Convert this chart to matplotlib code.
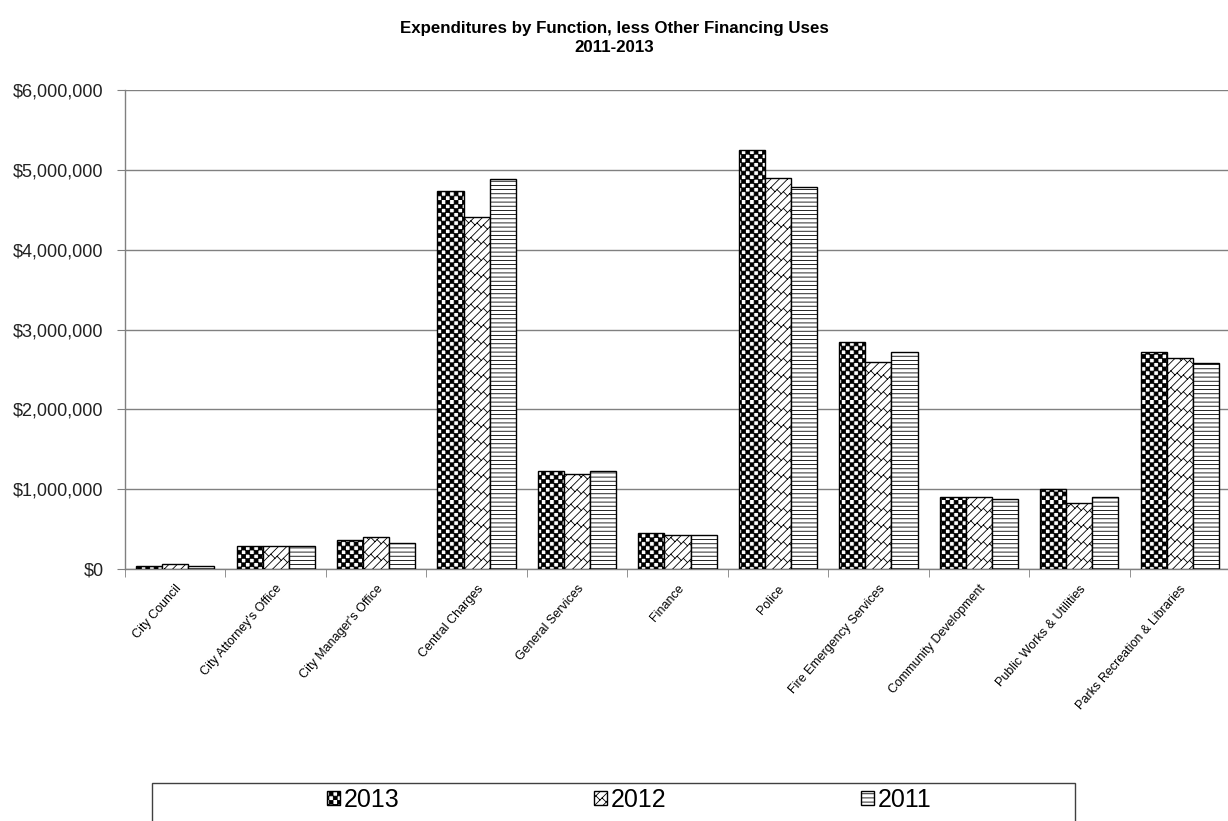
import warnings
import numpy as np
import matplotlib
matplotlib.use('Agg')
import matplotlib.pyplot as plt
import matplotlib.hatch as mhatch
from matplotlib.path import Path
from matplotlib.patches import Rectangle
from matplotlib.ticker import FuncFormatter

warnings.simplefilter('ignore')

matplotlib.rcParams['font.family'] = ['Liberation Sans', 'DejaVu Sans']
matplotlib.rcParams['hatch.linewidth'] = 0.6

categories = ['City Council', "City Attorney's Office", "City Manager's Office",
              'Central Charges', 'General Services', 'Finance', 'Police',
              'Fire Emergency Services', 'Community Development',
              'Public Works & Utilities', 'Parks Recreation & Libraries']
exp_2013 = [40000, 290000, 360000, 4740000, 1230000, 450000, 5250000,
            2840000, 900000, 1000000, 2720000]
exp_2012 = [60000, 290000, 400000, 4410000, 1190000, 430000, 4900000,
            2590000, 900000, 830000, 2640000]
exp_2011 = [35000, 290000, 330000, 4890000, 1230000, 420000, 4790000,
            2720000, 880000, 900000, 2580000]
years = ['2013', '2012', '2011']


# custom hatches: 'c' = checkerboard, 'b' = diagonal brick
class CheckerHatch(mhatch.HatchPatternBase):
    def __init__(self, hatch, density):
        self.n = hatch.count('c') * 12
        self.num_vertices = self.n * 2 * self.n * 5

    def set_vertices_and_codes(self, vertices, codes):
        n = self.n
        s = 1.0 / (2 * n)
        q = s * 0.92
        square = np.array([[0, 0], [q, 0], [q, q], [0, q], [0, 0]])
        sq_codes = [Path.MOVETO, Path.LINETO, Path.LINETO, Path.LINETO,
                    Path.CLOSEPOLY]
        i = 0
        for row in range(2 * n):
            shift = s if row % 2 else 0
            for col in range(n):
                vertices[i:i + 5] = square + [col / n + shift, row * s]
                codes[i:i + 5] = sq_codes
                i += 5


class BrickHatch(mhatch.HatchPatternBase):
    def __init__(self, hatch, density):
        m = hatch.count('b') * 12
        self.segs = []
        if m:
            for k in range(-m - 1, m + 2):
                a = k / m
                self.segs.append(((-0.05, a - 0.05), (1.05, a + 1.05)))
            half = 1.0 / (2 * m)
            p = 8
            for k in range(-m - 1, m + 1):
                a = k / m
                for j in range(-2 * p, 2 * p):
                    t = j / p + (0.5 / p if k % 2 else 0)
                    if -0.1 < t < 1.1 and -0.1 < t + a < 1.1:
                        self.segs.append(((t, t + a), (t - half, t + a + half)))
        self.num_vertices = 2 * len(self.segs)

    def set_vertices_and_codes(self, vertices, codes):
        for i, (p0, p1) in enumerate(self.segs):
            vertices[2 * i] = p0
            vertices[2 * i + 1] = p1
            codes[2 * i] = Path.MOVETO
            codes[2 * i + 1] = Path.LINETO


mhatch._hatch_types.append(CheckerHatch)
mhatch._hatch_types.append(BrickHatch)

fig = plt.figure(figsize=(12.28, 8.21), dpi=100)
ax = fig.add_axes([125 / 1228, 0.307, 1105 / 1228, 0.583])

x = np.arange(len(categories))
w = 0.26
bars = []
for off, vals, h, yr in zip([-w, 0, w], [exp_2013, exp_2012, exp_2011],
                            ['c', 'b', '----'], years):
    b = ax.bar(x + off, vals, w, color='white', edgecolor='black',
               linewidth=1.0, hatch=h, label=yr, zorder=3)
    bars.append(b)

ax.set_xlim(-0.5, len(categories) - 0.5)
ax.set_ylim(0, 6000000)
ax.set_yticks(np.arange(0, 6000001, 1000000))
ax.yaxis.set_major_formatter(FuncFormatter(lambda v, p: '${:,.0f}'.format(v)))
ax.grid(axis='y', color='#808080', linewidth=1.0, zorder=0)

ax.set_xticks(x)
ax.set_xticklabels(categories, rotation=49, ha='right',
                   rotation_mode='anchor', fontsize=9)
ax.set_xticks(np.arange(-0.5, len(categories)), minor=True)
ax.tick_params(axis='x', which='major', length=0, pad=10)
ax.tick_params(axis='x', which='minor', length=6, color='#808080')
ax.tick_params(axis='y', length=6, color='#808080', labelsize=13,
               labelcolor='#222222', pad=9.5)

for s in ['top', 'right']:
    ax.spines[s].set_visible(False)
for s in ['left', 'bottom']:
    ax.spines[s].set_color('#808080')
    ax.spines[s].set_linewidth(1.0)

fig.text(0.5, 1 - 28 / 821, 'Expenditures by Function, less Other Financing Uses',
         ha='center', va='center', fontsize=12.2, fontweight='bold')
fig.text(0.5, 1 - 47 / 821, '2011-2013', ha='center', va='center',
         fontsize=12.2, fontweight='bold')

fig.legend(handles=bars, labels=years, loc='center', ncol=3,
           bbox_to_anchor=(0.5125, 1 - 800 / 821), frameon=False, fontsize=18,
           handlelength=0.5, handleheight=0.5, handletextpad=0.15,
           columnspacing=7.8)
fig.add_artist(Rectangle((152 / 1228, -0.01), (1075 - 152) / 1228,
                         (821 - 783) / 821 + 0.01, transform=fig.transFigure,
                         fill=False, edgecolor='#404040', linewidth=1.0))

fig.savefig('out.png', dpi=100)
